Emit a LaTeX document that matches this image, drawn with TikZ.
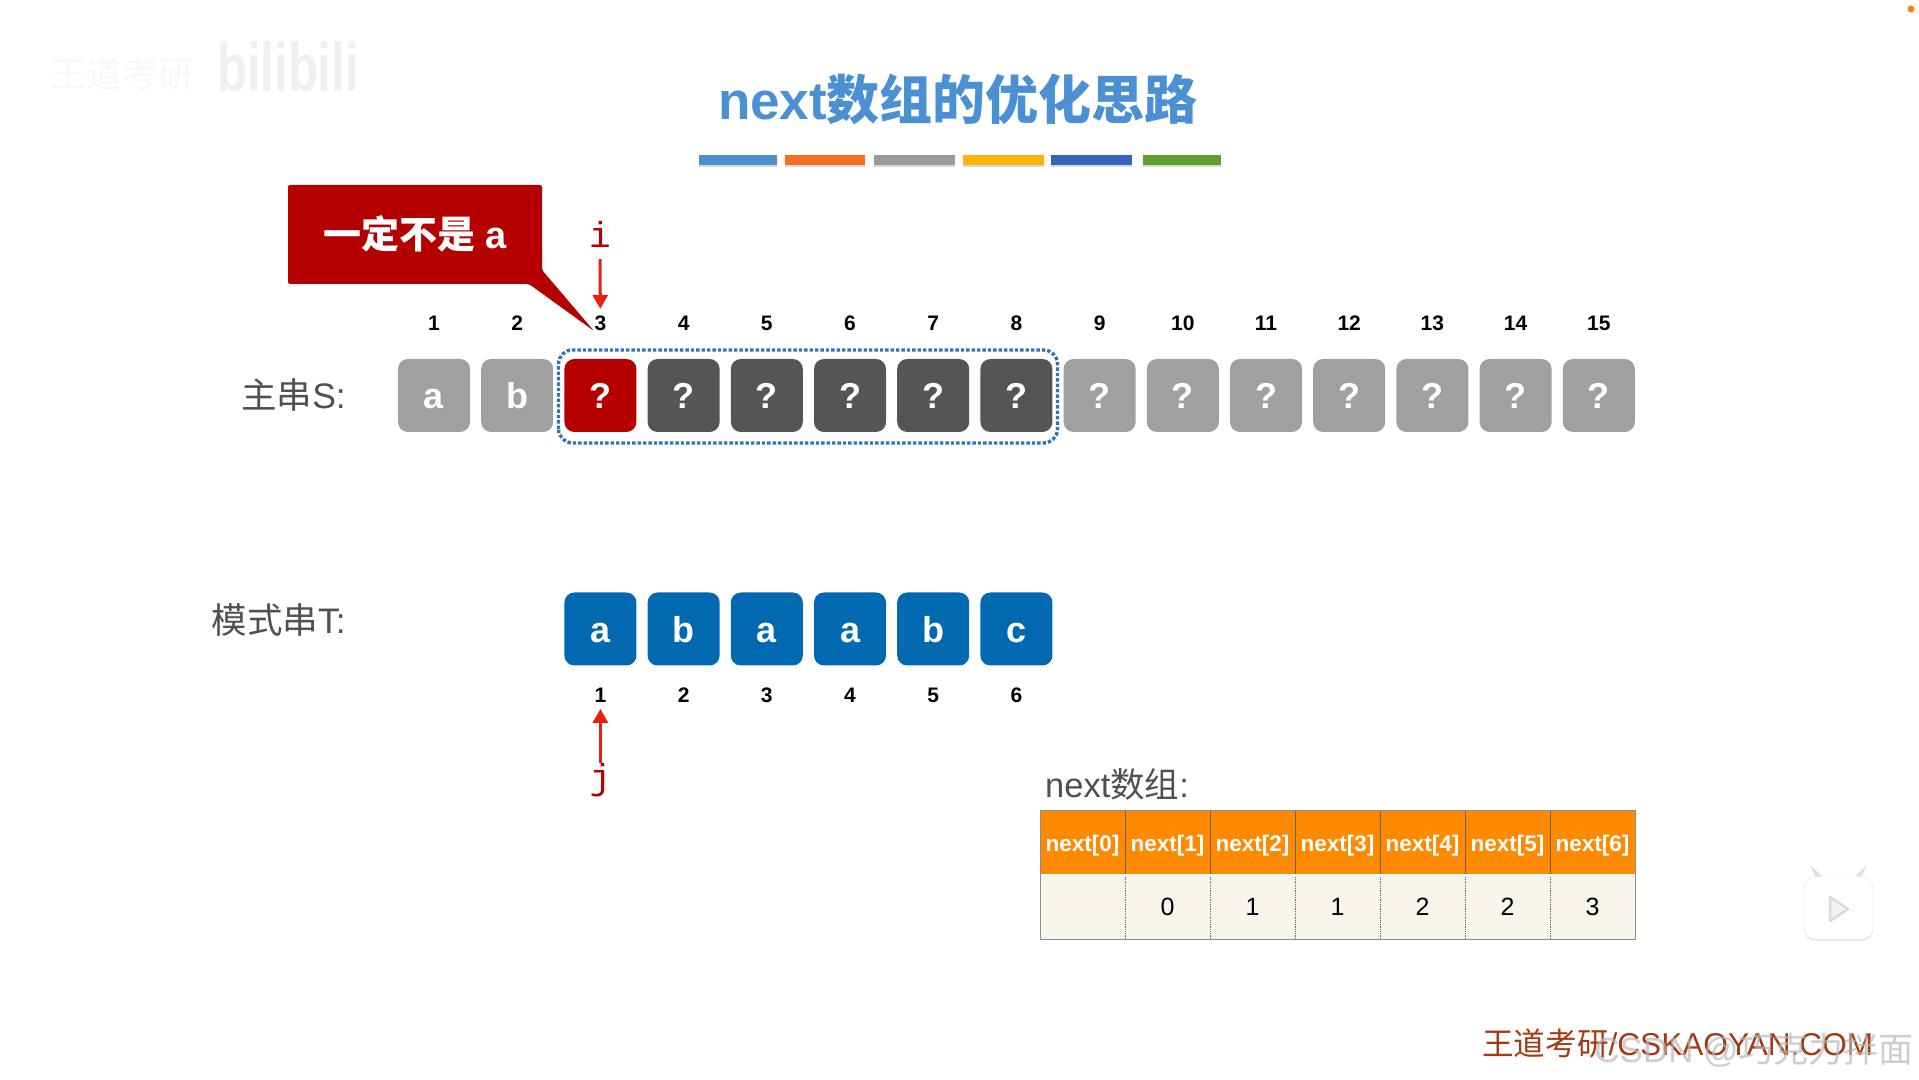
\documentclass[tikz,border=0pt]{standalone}
\usepackage{fontspec}
\setmainfont{Liberation Sans}
\newfontfamily\cjk{Noto Sans CJK SC}
\newfontfamily\cjkbold{Noto Sans CJK SC Bold}
\newfontfamily\monofam{Liberation Mono}
\usetikzlibrary{arrows.meta,calc,shadows}
\newcommand{\fs}[1]{\fontsize{#1}{#1}\selectfont}
\definecolor{titleblue}{HTML}{4A90D2}
\definecolor{barorange}{HTML}{F37021}
\definecolor{bargray}{HTML}{9B9B9B}
\definecolor{baryellow}{HTML}{FFB400}
\definecolor{barblue}{HTML}{3563C0}
\definecolor{bargreen}{HTML}{5FA030}
\definecolor{boxgray}{HTML}{A0A0A0}
\definecolor{boxdark}{HTML}{555555}
\definecolor{boxred}{HTML}{B50000}
\definecolor{boxblue}{HTML}{0069B0}
\definecolor{dotblue}{HTML}{2E75B6}
\definecolor{headorange}{HTML}{FF8A00}
\definecolor{cellcream}{HTML}{F8F5EA}
\definecolor{labelgray}{HTML}{505050}
\definecolor{arrowred}{HTML}{E8200F}
\definecolor{footred}{HTML}{A33A14}
\begin{document}
\begin{tikzpicture}[x=1pt,y=1pt,
  cell/.style={minimum width=72pt,minimum height=73pt,rounded corners=10pt,text=white,inner sep=0pt,text height=27pt,text depth=0pt,font=\fs{36}\bfseries},
  num/.style={inner sep=1pt,font=\fs{21}\bfseries},
  lab/.style={inner sep=0pt,text=labelgray,font=\fs{35.5}},
  ptr/.style={inner sep=0pt,text=boxred,font=\fs{36}\monofam},
  ptrarrow/.style={arrowred,line width=3pt,-{Triangle[length=14pt,width=15pt]}},
  barshade/.style={drop shadow={shadow xshift=0pt,shadow yshift=-2pt,opacity=.3}},
  headcell/.style={minimum width=85pt,minimum height=65pt,inner sep=0pt,fill=headorange,text=white,text height=18pt,text depth=0pt,font=\fs{22.5}\bfseries},
  valcell/.style={minimum width=85pt,minimum height=64pt,inner sep=0pt,font=\fs{25}}]
  \useasboundingbox (0,0) rectangle (1919,1079);
  % title
  \node[inner sep=0pt,text=titleblue,font=\fs{53}\bfseries] (title) at (958,980) {next{\cjkbold 数组的优化思路}};
  \foreach \a/\b/\c [count=\i from 0] in {699/777/titleblue,785/865/barorange,874/955/bargray,963/1044/baryellow,1051/1132/barblue,1143/1221/bargreen}{%
    \fill[\c,barshade] (\a,914) rectangle (\b,924);
  }
  % main string
  \node[lab,anchor=east] (slabel) at (346,684) {{\cjk 主串}S:};
  \foreach \h [count=\i from 1] in {a,b}{%
    \node[cell,fill=boxgray] (s\i) at ({434+(\i-1)*83.2},683.5) {\h};
  }
  \node[cell,fill=boxred] (s3) at ({434+2*83.2},683.5) {?};
  \foreach \i in {4,...,8}{%
    \node[cell,fill=boxdark] (s\i) at ({434+(\i-1)*83.2},683.5) {?};
  }
  \foreach \i in {9,...,15}{%
    \node[cell,fill=boxgray] (s\i) at ({434+(\i-1)*83.2},683.5) {?};
  }
  \foreach \i in {1,...,15}{%
    \node[num] (sn\i) at ({434+(\i-1)*83.2},755.5) {\i};
  }
  \draw[dotblue,line width=3.4pt,dotted,rounded corners=14pt] (558.5,636) rectangle (1057.5,729);
  % callout
  \fill[boxred,rounded corners=2pt] (288,795) -- (288,894) -- (542,894) -- (542,809) -- (594,748) -- (529,795) -- cycle;
  \node[inner sep=0pt,text=white,font=\fs{38}\bfseries] (callout) at (415,845) {{\cjkbold 一定不是} a};
  \node[ptr] (i) at (600,845) {i};
  \draw[ptrarrow,shorten >=6pt] (i.south) ++(0,-12pt) -- (sn3.north);
  % pattern string
  \node[lab,anchor=east] (tlabel) at (346,459) {{\cjk 模式串}T:};
  \foreach \h [count=\i from 1] in {a,b,a,a,b,c}{%
    \node[cell,fill=boxblue] (t\i) at ({600.4+(\i-1)*83.2},450) {\h};
    \node[num] (tn\i) at ({600.4+(\i-1)*83.2},383.5) {\i};
  }
  \node[ptr] (j) at (600.4,299) {j};
  \draw[ptrarrow,shorten >=5pt] (j.north) ++(0,0pt) -- (tn1.south);
  % next table
  \node[lab,anchor=west,font=\fs{34.5}] (nextlabel) at (1045,295) {next{\cjk 数组}:};
  \foreach \v [count=\i from 0] in {,0,1,1,2,2,3}{%
    \node[headcell] (h\i) at ({1082.5+\i*85},236.5) {next[\i]};
    \node[valcell,fill=cellcream] (v\i) at ({1082.5+\i*85},172) {\v};
  }
  \foreach \i in {1,...,6}{%
    \draw[black!60,line width=.8pt] ({1040+\i*85},204) -- ++(0,65);
    \draw[black!60,line width=.8pt,densely dotted] ({1040+\i*85},140) -- ++(0,64);
  }
  \draw[white,line width=1.4pt] (1040,204) -- (1635,204);
  \draw[black!45,line width=.9pt] (1040,140) rectangle (1635,269);
  % play icon
  \fill[black!12,line width=2pt] (1816,201) -- (1810,214) -- (1822,203) -- cycle;
  \fill[black!12,line width=2pt] (1861,201) -- (1867,214) -- (1855,203) -- cycle;
  \fill[white,draw=black!10,rounded corners=11pt,drop shadow={shadow xshift=0pt,shadow yshift=-2pt,opacity=.15}] (1804,140) rectangle (1873,202);
  \draw[black!14,fill=black!5,line width=2.5pt,line join=round] (1830,182) -- (1830,158) -- (1848,170) -- cycle;
  % footer and marks
  \node[inner sep=0pt,anchor=west,text=footred,font=\fs{31.6}] (foot) at (1482,36) {{\cjk 王道考研}/CSKAOYAN.COM};
  \node[inner sep=0pt,anchor=east,text=black!28,font=\fs{35},opacity=.7] (csdn) at (1914,29) {CSDN @{\cjk 巧克力拌面}};
  \node[inner sep=0pt,text=black!6,font=\fs{49}\bfseries,yscale=1.4,transform shape] (bili) at (288,1012) {bilibili};
  \node[inner sep=0pt,text=black!3,font=\fs{36}] (mark) at (122,1005) {{\cjk 王道考研}};
  \fill[orange] (1911,1070) circle (3.5pt);
\end{tikzpicture}
\end{document}
